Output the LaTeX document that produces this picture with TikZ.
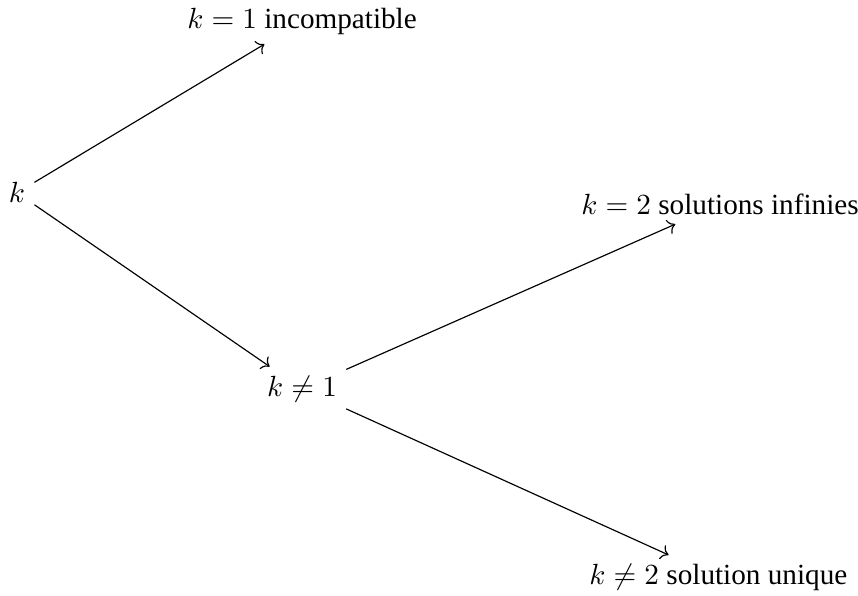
\documentclass[tikz,border=0pt]{standalone}
\usepackage{fontspec}
\setmainfont{Liberation Serif}
\usepackage{tikz}
\usetikzlibrary{arrows.meta,positioning,calc}
\tikzset{
  etat/.style={inner sep=0.3em},
  fleche/.style={->,thin}
}

\begin{document}
\begin{tikzpicture}[x=1cm,y=1cm]
  \useasboundingbox (-0.205,-4.85) rectangle (10.12,2.32);

  \node[etat] (k) at (0,0) {$k$};
  \node[etat] (keq1) at (3.43,2.06) {$k=1$ incompatible};
  \node[etat] (kneq1) at (3.43,-2.36) {$k\neq1$};
  \node[etat] (keq2) at (8.46,-0.14) {$k=2$ solutions infinies};
  \node[etat] (kneq2) at (8.44,-4.63) {$k\neq2$ solution unique};

  \draw[fleche] (k) -- (keq1);
  \draw[fleche] (k) -- (kneq1);
  \draw[fleche] (kneq1) -- (keq2);
  \draw[fleche] (kneq1) -- (kneq2);
\end{tikzpicture}
\end{document}
